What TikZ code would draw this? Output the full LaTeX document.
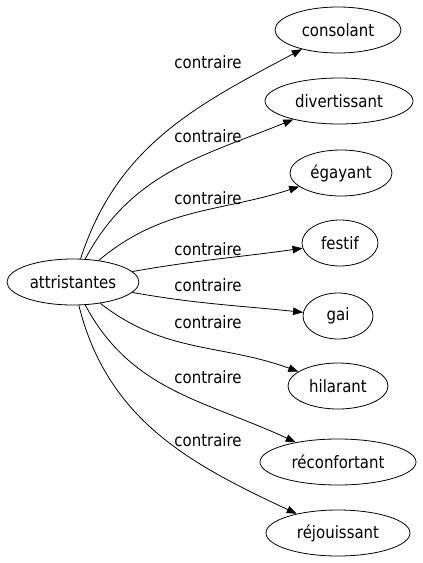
\documentclass[tikz,border=0pt]{standalone}
\usepackage{fontspec}
\setmainfont{DejaVu Sans}[FakeStretch=0.88]
\usetikzlibrary{shapes.geometric, arrows.meta}

\begin{document}
\begin{tikzpicture}[x=1pt, y=-1pt,
    word/.style={draw, line width=0.8pt, ellipse, inner sep=0pt, minimum height=46pt, font=\fontsize{17}{19}\selectfont},
    rel/.style={font=\fontsize{17}{19}\selectfont},
    link/.style={-{Triangle[length=10pt, width=7.5pt]}, line width=0.8pt}]
  \useasboundingbox (0, 0) rectangle (423, 563);
  % source word
  \node[word, minimum width=132pt] (attr) at (73, 282) {attristantes};
  % opposite words
  \node[word, minimum width=126pt] (cons) at (338, 30) {consolant};
  \node[word, minimum width=148pt] (dive) at (339, 101) {divertissant};
  \node[word, minimum width=102pt] (egay) at (341, 173) {égayant};
  \node[word, minimum width=76pt] (fest) at (340, 243) {festif};
  \node[word, minimum width=70pt] (gai) at (338, 316) {gai};
  \node[word, minimum width=100pt] (hila) at (338, 386) {hilarant};
  \node[word, minimum width=156pt] (reco) at (338, 462) {réconfortant};
  \node[word, minimum width=144pt] (rejo) at (338, 533) {réjouissant};
  % edge labels
  \node[rel] (l1) at (208, 62) {contraire};
  \node[rel] (l2) at (208, 136) {contraire};
  \node[rel] (l3) at (208, 198) {contraire};
  \node[rel] (l4) at (208, 249) {contraire};
  \node[rel] (l5) at (208, 285) {contraire};
  \node[rel] (l6) at (208, 322) {contraire};
  \node[rel] (l7) at (208, 377) {contraire};
  \node[rel] (l8) at (208, 440) {contraire};
  % edges
  \draw[link] (attr) to[out=72, in=208] (cons);
  \draw[link] (attr) to[out=62, in=202] (dive);
  \draw[link] (attr) to[out=40, in=198] (egay);
  \draw[link] (attr) to[out=10, in=188] (fest);
  \draw[link] (attr) to[out=-10, in=174] (gai);
  \draw[link] (attr) to[out=-38, in=160] (hila);
  \draw[link] (attr) to[out=-62, in=155] (reco);
  \draw[link] (attr) to[out=-76, in=155] (rejo);
\end{tikzpicture}
\end{document}
